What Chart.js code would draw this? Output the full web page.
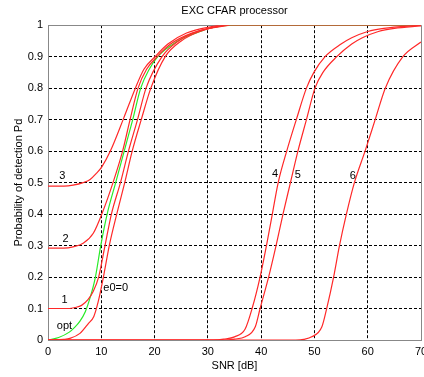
<!DOCTYPE html>
<html>
<head>
<meta charset="utf-8">
<title>EXC CFAR processor</title>
<script src="https://cdn.jsdelivr.net/npm/chart.js@4/dist/chart.umd.min.js"></script>
<style>
    body { margin: 0; background: #fff; }
    canvas { display: block; }
</style>
</head>
<body>
<canvas id="pdChart" width="424" height="377"></canvas>
<script>
// Curve data (SNR in dB, probability of detection)
const optSnr = [0, 2, 4, 5, 6, 7, 8, 8.9, 9.9, 11.1, 12.7, 14.3, 15.9, 17.4, 19, 20.6, 23, 25.5, 28.5, 31, 35, 70];
const optPd  = [0, 0.008, 0.025, 0.04, 0.06, 0.09, 0.14, 0.2, 0.3, 0.4, 0.5, 0.6, 0.7, 0.8, 0.86, 0.9, 0.935, 0.96, 0.98, 0.993, 1, 1];

const e0Snr = [0, 3, 4.1, 6, 7.6, 8.6, 9.4, 10.4, 11.5, 12.9, 14.4, 15.8, 17.5, 19.3, 22, 25, 28.5, 34, 70];
const e0Pd  = [0, 0.002, 0.005, 0.021, 0.053, 0.075, 0.12, 0.2, 0.3, 0.4, 0.5, 0.6, 0.7, 0.8, 0.9, 0.95, 0.98, 1, 1];

const c1Snr = [0, 4, 5, 6.3, 7.5, 8.5, 9.5, 10.7, 11.9, 13.6, 15.1, 16.8, 18.4, 21.4, 24.5, 28, 34];
const c1Pd  = [0.1, 0.1, 0.103, 0.11, 0.128, 0.155, 0.2, 0.3, 0.4, 0.5, 0.6, 0.7, 0.8, 0.9, 0.95, 0.98, 1];

const c2Snr = [0, 3, 4.7, 6.6, 8.5, 10.1, 12.2, 14, 15.4, 16.9, 18.5, 20.5, 23, 27, 33];
const c2Pd  = [0.292, 0.292, 0.296, 0.307, 0.339, 0.4, 0.5, 0.6, 0.7, 0.8, 0.86, 0.9, 0.94, 0.975, 1];

const c3Snr = [0, 3, 4.7, 6.6, 7.9, 9.1, 10.1, 11.7, 14.1, 16.4, 18, 20.1, 22.5, 26, 32];
const c3Pd  = [0.489, 0.489, 0.492, 0.5, 0.51, 0.53, 0.55, 0.6, 0.7, 0.8, 0.86, 0.9, 0.94, 0.975, 1];

const c4Snr = [0, 31, 33, 35, 37, 38.3, 39.8, 41, 42.1, 43.2, 44.8, 46.6, 48.5, 49.9, 52, 55, 57, 60, 63, 70];
const c4Pd  = [0, 0, 0.003, 0.01, 0.035, 0.1, 0.2, 0.3, 0.4, 0.5, 0.6, 0.7, 0.8, 0.85, 0.9, 0.94, 0.96, 0.98, 0.99, 1];

const c5Snr = [0, 33, 35, 37, 38.9, 39.8, 41.4, 42.8, 44.1, 45.5, 46.9, 48.5, 50.1, 51.6, 54.2, 57, 59, 62, 65, 70];
const c5Pd  = [0, 0, 0.003, 0.01, 0.042, 0.1, 0.2, 0.3, 0.4, 0.5, 0.6, 0.7, 0.8, 0.85, 0.9, 0.94, 0.96, 0.98, 0.99, 0.998];

const c6Snr = [0, 46.5, 48, 49.5, 51.4, 52.3, 53.6, 54.7, 56, 57.5, 59.5, 61.4, 63.3, 66.6, 70];
const c6Pd  = [0, 0, 0.002, 0.01, 0.042, 0.1, 0.2, 0.3, 0.4, 0.5, 0.6, 0.7, 0.8, 0.9, 0.947];

// Axis ticks
const xTicks = [0, 10, 20, 30, 40, 50, 60, 70];
const yTicks = [0, 0.1, 0.2, 0.3, 0.4, 0.5, 0.6, 0.7, 0.8, 0.9, 1];

// Curve labels, anchored in data units
const curveLabels = ['3', '2', '1', 'opt', 'e0=0', '4', '5', '6'];
const curveLabelSnr = [2.7, 3.3, 3.1, 3.1, 12.7, 42.6, 46.9, 57.2];
const curveLabelPd = [0.52, 0.32, 0.127, 0.044, 0.165, 0.527, 0.525, 0.522];

const RED = 'rgb(255, 40, 40)';
const GREEN = 'rgb(40, 235, 40)';
const FONT = { family: "'Liberation Sans', Arial, sans-serif", size: 11 };

function toPoints(xs, ys) {
    return xs.map((x, i) => ({ x: x, y: ys[i] }));
}

function curve(xs, ys, color) {
    return {
        data: toPoints(xs, ys),
        borderColor: color,
        borderWidth: 1.2,
        pointRadius: 0,
        cubicInterpolationMode: 'monotone',
        fill: false
    };
}

// Text next to each curve
const curveLabelPlugin = {
    id: 'curveLabels',
    afterDatasetsDraw(chart) {
        const { ctx, scales: { x, y } } = chart;
        ctx.save();
        ctx.font = FONT.size + 'px ' + FONT.family;
        ctx.fillStyle = '#000';
        ctx.textAlign = 'center';
        ctx.textBaseline = 'middle';
        curveLabels.forEach((text, i) => {
            ctx.fillText(text, x.getPixelForValue(curveLabelSnr[i]), y.getPixelForValue(curveLabelPd[i]));
        });
        ctx.restore();
    }
};

const isEdge = (ctx, lo, hi) => ctx.tick && (ctx.tick.value === lo || ctx.tick.value === hi);

new Chart(document.getElementById('pdChart'), {
    type: 'line',
    data: {
        datasets: [
            curve(c6Snr, c6Pd, RED),
            curve(c5Snr, c5Pd, RED),
            curve(c4Snr, c4Pd, RED),
            curve(c3Snr, c3Pd, RED),
            curve(c2Snr, c2Pd, RED),
            curve(c1Snr, c1Pd, RED),
            curve(e0Snr, e0Pd, RED),
            curve(optSnr, optPd, GREEN)
        ]
    },
    options: {
        responsive: false,
        animation: false,
        layout: { padding: { left: 0, right: 3, top: 0, bottom: 0 } },
        plugins: {
            legend: { display: false },
            tooltip: { enabled: false },
            title: {
                display: true,
                text: 'EXC CFAR processor',
                fullSize: false,
                color: '#000',
                font: { ...FONT, weight: 'normal' },
                padding: { top: 4, bottom: 8 }
            }
        },
        scales: {
            x: {
                type: 'linear',
                min: xTicks[0],
                max: xTicks[xTicks.length - 1],
                afterBuildTicks: scale => { scale.ticks = xTicks.map(v => ({ value: v })); },
                afterFit: scale => { scale.height = 37; scale.paddingLeft = 0; scale.paddingRight = 0; },
                ticks: { color: '#000', font: FONT, padding: 5, maxRotation: 0 },
                grid: {
                    drawTicks: false,
                    color: ctx => isEdge(ctx, 0, 70) ? '#888' : '#000',
                    lineWidth: 1
                },
                border: { color: '#888', width: 1, dash: ctx => isEdge(ctx, 0, 70) ? [] : [3, 2] },
                title: { display: true, text: 'SNR [dB]', color: '#000', font: FONT, padding: { top: 0, bottom: 4 } }
            },
            y: {
                type: 'linear',
                min: yTicks[0],
                max: yTicks[yTicks.length - 1],
                afterBuildTicks: scale => { scale.ticks = yTicks.map(v => ({ value: v })); },
                afterFit: scale => { scale.width = 48; },
                ticks: {
                    color: '#000',
                    font: FONT,
                    padding: 5,
                    callback: v => String(Math.round(v * 10) / 10)
                },
                grid: {
                    drawTicks: false,
                    color: ctx => isEdge(ctx, 0, 1) ? '#888' : '#000',
                    lineWidth: 1
                },
                border: { color: '#888', width: 1, dash: ctx => isEdge(ctx, 0, 1) ? [] : [3, 2] },
                title: { display: true, text: 'Probability of detection Pd', color: '#000', font: FONT, padding: { top: 12, bottom: 0 } }
            }
        }
    },
    plugins: [curveLabelPlugin]
});
</script>
</body>
</html>
